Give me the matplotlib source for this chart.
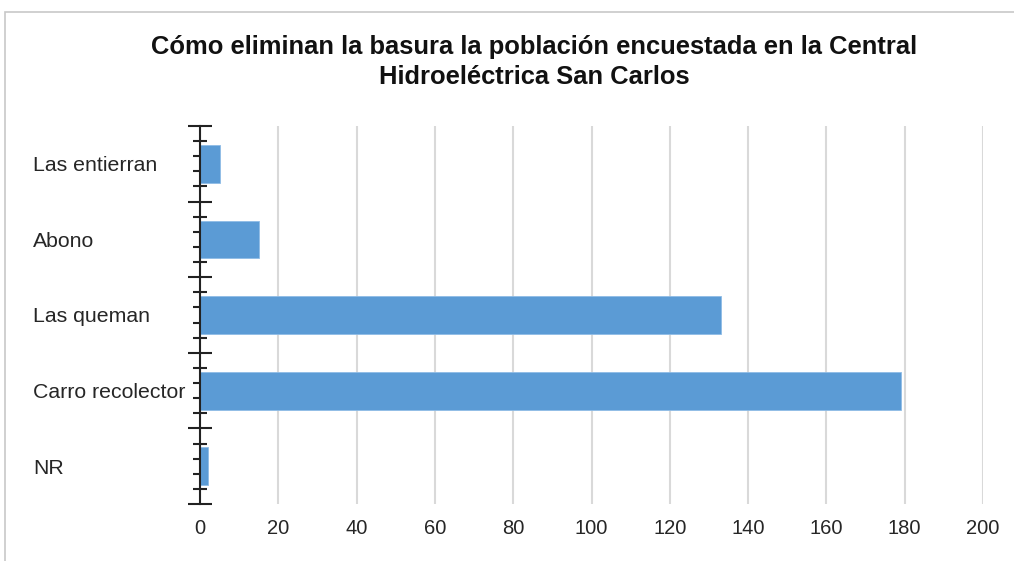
import matplotlib.pyplot as plt
from matplotlib.patches import Rectangle
from matplotlib.transforms import blended_transform_factory
import numpy as np

categories = ["Las entierran", "Abono", "Las queman", "Carro recolector", "NR"]
values = [5, 15, 133, 179, 2]
x_ticks = [0, 20, 40, 60, 80, 100, 120, 140, 160, 180, 200]

plt.rcParams['font.family'] = ['Liberation Sans', 'DejaVu Sans']

fig = plt.figure(figsize=(10.14, 5.61), dpi=100)
ax = fig.add_axes([200 / 1014, 1 - 504 / 561, 783 / 1014, 378 / 561])

# thin grey frame round the chart (top and left edges visible)
fig.patches.append(Rectangle((5 / 1014, -0.1), 1.2, 1 - 12 / 561 + 0.1,
                             transform=fig.transFigure, fill=False,
                             edgecolor='#c8c8c8', linewidth=1.2))

y = np.arange(len(categories))
ax.barh(y, values, height=0.5, color='#5b9bd5', edgecolor='#8fbce6',
        linewidth=0.6, zorder=3)

ax.set_xlim(0, 200)
ax.set_ylim(len(categories) - 0.5, -0.5)
ax.set_xticks(x_ticks)

# major ticks on category borders, minor ticks between
ax.set_yticks(np.arange(-0.5, len(categories), 1.0))
ax.set_yticklabels([])
ax.set_yticks(np.arange(-0.5, len(categories) - 0.5, 0.2)[1:], minor=True)

# category labels, left aligned
trans = blended_transform_factory(fig.transFigure, ax.transData)
for i, name in enumerate(categories):
    ax.text(33 / 1014, i, name, transform=trans,
            ha='left', va='center_baseline', fontsize=15.3, color='#262626')

ax.tick_params(axis='y', which='major', direction='inout', length=17,
               width=1.5, color='#222222')
ax.tick_params(axis='y', which='minor', direction='inout', length=10,
               width=1.5, color='#222222')
ax.tick_params(axis='x', length=0, pad=11, labelsize=14.5, labelcolor='#262626')

for s in ['top', 'right', 'bottom']:
    ax.spines[s].set_visible(False)
ax.spines['left'].set_color('#222222')
ax.spines['left'].set_linewidth(1.5)
ax.spines['left'].set_zorder(4)

ax.grid(axis='x', color='#d9d9d9', linewidth=1.5, zorder=0)
ax.set_axisbelow(True)

fig.text(534 / 1014, 1 - 62 / 561,
         "Cómo eliminan la basura la población encuestada en la Central\nHidroeléctrica San Carlos",
         ha='center', va='center', fontsize=18.4, fontweight='bold',
         color='#111111', linespacing=1.3)

fig.savefig('out.png', dpi=100)
